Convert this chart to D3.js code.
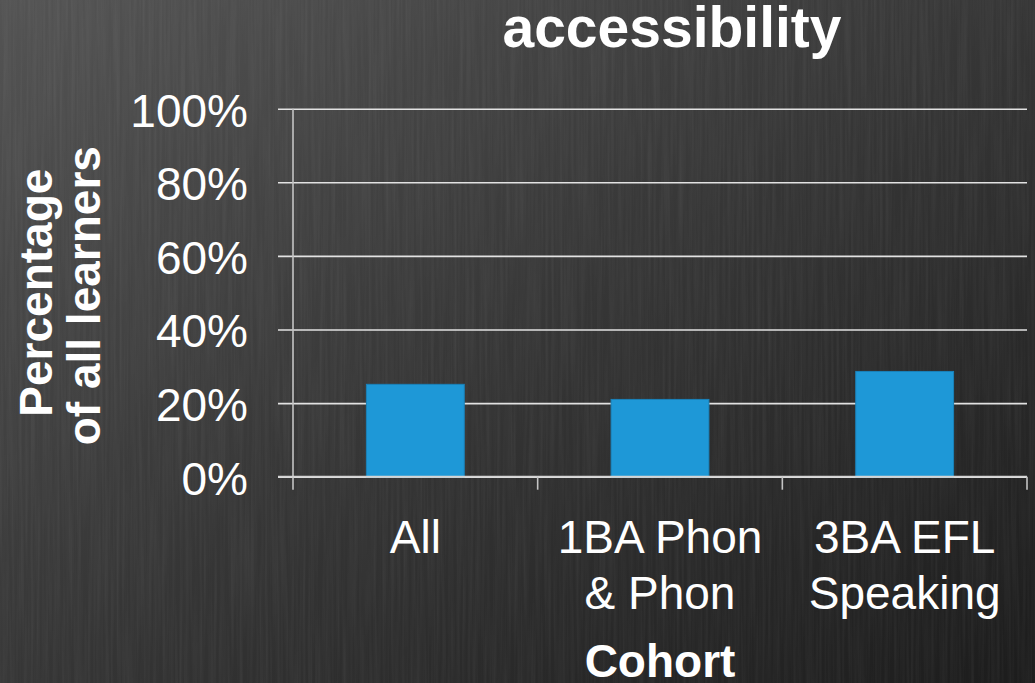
<!DOCTYPE html>
<meta charset="utf-8">
<script src="https://d3js.org/d3.v7.min.js"></script>
<style>
  body { margin: 0; background: #2b2b2b; }
  text { font-family: "Liberation Sans", Arial, Helvetica, sans-serif; fill: #fff; }
</style>
<div id="chart"></div>
<script>

    // data
    var cohorts = ["All", "1BA Phon & Phon", "3BA EFL Speaking"];
    var cohortLines = [["All"], ["1BA Phon", "& Phon"], ["3BA EFL", "Speaking"]];
    var percentages = [25.1, 21.0, 28.6];
    var yTicks = [0, 20, 40, 60, 80, 100];

    var W = 1035, H = 683;
    var margin = {top: 108.7, right: 8, bottom: 206.3, left: 293};

    var svg = d3.select("#chart")
      .append("svg")
        .attr("width", W)
        .attr("height", H);

    // dark diagonal background
    var defs = svg.append("defs");
    var grad = defs.append("linearGradient")
        .attr("id", "bg")
        .attr("x1", "0").attr("y1", "0")
        .attr("x2", "1").attr("y2", "1");
    grad.append("stop").attr("offset", "0%").attr("stop-color", "#545454");
    grad.append("stop").attr("offset", "50%").attr("stop-color", "#363636");
    grad.append("stop").attr("offset", "100%").attr("stop-color", "#1c1c1c");

    // faint vertical streaks
    var filt = defs.append("filter").attr("id", "streaks")
        .attr("x", 0).attr("y", 0).attr("width", "100%").attr("height", "100%");
    filt.append("feTurbulence")
        .attr("type", "fractalNoise")
        .attr("baseFrequency", "0.35 0.008")
        .attr("numOctaves", 2)
        .attr("seed", 4)
        .attr("result", "noise");
    filt.append("feColorMatrix")
        .attr("in", "noise")
        .attr("type", "matrix")
        .attr("values", "0 0 0 0 1  0 0 0 0 1  0 0 0 0 1  0 0 0 0.09 -0.03");

    svg.append("rect")
        .attr("width", W).attr("height", H)
        .attr("fill", "url(#bg)");
    svg.append("rect")
        .attr("width", W).attr("height", H)
        .attr("filter", "url(#streaks)");

    var x = d3.scaleBand()
        .domain(cohorts)
        .range([margin.left, W - margin.right])
        .paddingInner(0.6)
        .paddingOuter(0.3);

    var y = d3.scaleLinear()
        .domain([0, 100])
        .range([H - margin.bottom, margin.top]);

    var x0 = x.range()[0], x1 = x.range()[1];
    var tickOut = 15;

    // gridlines + y labels
    var yAxis = svg.append("g")
        .attr("transform", "translate(" + x1 + ",0)")
        .call(d3.axisLeft(y)
            .tickValues(yTicks)
            .tickSize(x1 - x0 + tickOut)
            .tickPadding(30)
            .tickFormat(function(d) { return d + "%"; }));
    yAxis.select(".domain").remove();
    yAxis.selectAll(".tick line")
        .attr("stroke", "#e2e2e2")
        .attr("stroke-width", 1.6);
    yAxis.selectAll(".tick text")
        .attr("fill", "#fff")
        .attr("dy", "0.38em")
        .style("font-family", "'Liberation Sans', Arial, sans-serif")
        .style("font-size", "46px");

    // bars
    svg.append("g")
      .selectAll("rect")
      .data(percentages)
      .enter()
      .append("rect")
        .attr("x", function(d, i) { return x(cohorts[i]); })
        .attr("y", function(d) { return y(d); })
        .attr("width", x.bandwidth())
        .attr("height", function(d) { return y(0) - y(d); })
        .attr("fill", "#1e98d7")
        .attr("stroke", "#1a82ba")
        .attr("stroke-width", 1);

    // vertical axis line
    svg.append("line")
        .attr("x1", x0).attr("x2", x0)
        .attr("y1", y(100)).attr("y2", y(0) + 13)
        .attr("stroke", "#c4c4c4")
        .attr("stroke-width", 1.6);

    // baseline redraw over bars
    svg.append("line")
        .attr("x1", x0 - tickOut).attr("x2", x1)
        .attr("y1", y(0)).attr("y2", y(0))
        .attr("stroke", "#d4d4d4")
        .attr("stroke-width", 1.8);

    // category boundary ticks
    var bounds = d3.range(cohorts.length + 1).map(function(i) { return x0 + i * x.step(); });
    svg.append("g")
      .selectAll("line")
      .data(bounds.slice(1))
      .enter()
      .append("line")
        .attr("x1", function(d) { return d; })
        .attr("x2", function(d) { return d; })
        .attr("y1", y(0))
        .attr("y2", y(0) + 13)
        .attr("stroke", "#c4c4c4")
        .attr("stroke-width", 1.6);

    // category labels
    var labels = svg.append("g")
      .selectAll("text")
      .data(cohortLines)
      .enter()
      .append("text")
        .attr("text-anchor", "middle")
        .style("font-size", "46px");
    labels.selectAll("tspan")
      .data(function(d, i) { return d.map(function(s) { return {s: s, i: i}; }); })
      .enter()
      .append("tspan")
        .attr("x", function(d) { return x(cohorts[d.i]) + x.bandwidth() / 2; })
        .attr("y", function(d, j) { return y(0) + 76 + j * 56; })
        .text(function(d) { return d.s; });

    // x axis title
    svg.append("text")
        .attr("x", (x0 + x1) / 2)
        .attr("y", 677)
        .attr("text-anchor", "middle")
        .style("font-size", "46px")
        .style("font-weight", "bold")
        .text("Cohort");

    // y axis title (two lines)
    var yMid = (y(0) + y(100)) / 2;
    svg.append("text")
        .attr("transform", "translate(52," + yMid + ") rotate(-90)")
        .attr("text-anchor", "middle")
        .style("font-size", "46px")
        .style("font-weight", "bold")
        .text("Percentage");
    svg.append("text")
        .attr("transform", "translate(100," + (yMid + 3) + ") rotate(-90)")
        .attr("text-anchor", "middle")
        .style("font-size", "46px")
        .style("font-weight", "bold")
        .text("of all learners");

    // chart title (upper line cut off in the source)
    svg.append("text")
        .attr("x", 672)
        .attr("y", 47)
        .attr("text-anchor", "middle")
        .style("font-size", "57px")
        .style("font-weight", "bold")
        .text("accessibility");

</script>
